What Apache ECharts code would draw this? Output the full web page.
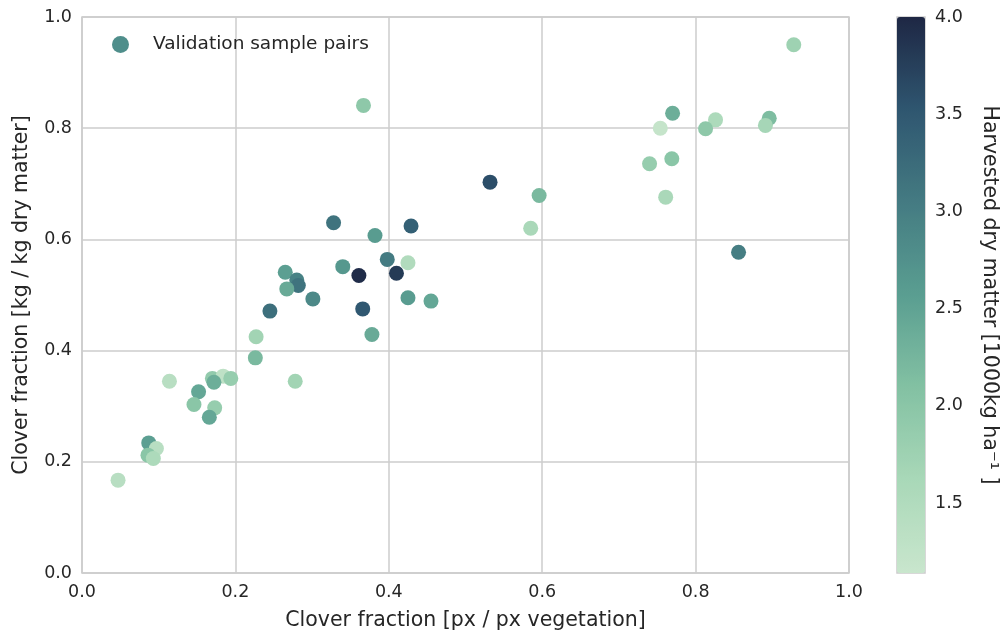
<!DOCTYPE html>
<html>
<head>
<meta charset="utf-8">
<script src="https://cdn.jsdelivr.net/npm/echarts@6/dist/echarts.min.js"></script>
<style>
  html, body { margin: 0; padding: 0; background: #fff; }
  #chart { width: 1006px; height: 632px; }
</style>
</head>
<body>
<div id="chart"></div>
<script>
var chart = echarts.init(document.getElementById("chart"));

// clover fraction from images (x), from lab (y), harvested dry matter (colour)
var pxFraction = [
  0.928, 0.770, 0.826, 0.896, 0.891, 0.754, 0.813, 0.740, 0.769, 0.761,
  0.856, 0.532, 0.596, 0.585, 0.367, 0.328, 0.429, 0.382, 0.398, 0.425,
  0.340, 0.361, 0.410, 0.265, 0.280, 0.282, 0.267, 0.301, 0.425, 0.455,
  0.245, 0.366, 0.378, 0.227, 0.226, 0.278, 0.114, 0.170, 0.184, 0.194,
  0.172, 0.152, 0.146, 0.173, 0.166, 0.087, 0.097, 0.086, 0.093, 0.047
];
var kgFraction = [
  0.950, 0.827, 0.815, 0.818, 0.805, 0.800, 0.799, 0.736, 0.745, 0.676,
  0.577, 0.703, 0.679, 0.620, 0.841, 0.630, 0.624, 0.607, 0.564, 0.558,
  0.551, 0.535, 0.539, 0.541, 0.527, 0.517, 0.511, 0.493, 0.495, 0.489,
  0.471, 0.475, 0.429, 0.425, 0.387, 0.345, 0.345, 0.350, 0.354, 0.350,
  0.343, 0.326, 0.303, 0.297, 0.280, 0.234, 0.224, 0.212, 0.206, 0.167
];
var dryMatter = [
  1.75, 2.35, 1.55, 2.15, 1.65, 1.20, 1.95, 1.85, 2.00, 1.60,
  3.00, 3.60, 2.20, 1.60, 1.95, 3.15, 3.40, 2.60, 3.05, 1.50,
  2.65, 3.95, 3.80, 2.55, 2.95, 3.15, 2.40, 2.85, 2.60, 2.45,
  3.20, 3.50, 2.40, 1.70, 2.20, 1.70, 1.40, 1.90, 1.30, 1.85,
  2.35, 2.45, 2.00, 1.85, 2.45, 2.55, 1.40, 2.00, 1.55, 1.40
];

var axisTicks = [0, 0.2, 0.4, 0.6, 0.8, 1.0];
var cbarMin = 1.14;
var cbarMax = 4.0;
var cmap = ["#c9e6cd", "#a9d8b8", "#83c1a3", "#5a9e91", "#447b82", "#2f5670", "#1e2744"];

var points = pxFraction.map(function (x, i) {
  return [x, kgFraction[i], dryMatter[i]];
});

var font = "DejaVu Sans";
var txt = "#262626";

var option = {
  backgroundColor: "#fff",
  textStyle: { fontFamily: font },
  grid: [
    { left: 82, right: 157, top: 17, bottom: 59, outerBoundsMode: "none", containLabel: false,
      show: true, borderColor: "#cccccc", borderWidth: 1.5 },
    { left: 897, width: 28, top: 17, height: 556, outerBoundsMode: "none", containLabel: false,
      show: true, borderColor: "#cccccc", borderWidth: 1.5 }
  ],
  legend: {
    left: 107, top: 30,
    itemWidth: 17, itemHeight: 17,
    textStyle: { fontFamily: font, fontSize: 18.5, color: txt, padding: [0, 0, 0, 19] },
    data: [{ name: "Validation sample pairs", icon: "circle", itemStyle: { color: "#4f8e8b" } }]
  },
  xAxis: [
    {
      type: "value", min: axisTicks[0], max: axisTicks[axisTicks.length - 1], interval: 0.2,
      name: "Clover fraction [px / px vegetation]", nameLocation: "middle", nameGap: 37,
      nameTextStyle: { fontFamily: font, fontSize: 20.5, color: txt },
      axisLine: { show: false }, axisTick: { show: false },
      axisLabel: { fontFamily: font, fontSize: 17.5, color: txt, margin: 10, formatter: function (v) { return v.toFixed(1); } },
      splitLine: { lineStyle: { color: "#cccccc", width: 1.5 } }
    },
    { gridIndex: 1, type: "value", show: false, min: 0, max: 1 }
  ],
  yAxis: [
    {
      type: "value", min: axisTicks[0], max: axisTicks[axisTicks.length - 1], interval: 0.2,
      name: "Clover fraction [kg / kg dry matter]", nameLocation: "middle", nameGap: 50,
      nameTextStyle: { fontFamily: font, fontSize: 20.5, color: txt },
      axisLine: { show: false }, axisTick: { show: false },
      axisLabel: { fontFamily: font, fontSize: 17.5, color: txt, margin: 10, formatter: function (v) { return v.toFixed(1); } },
      splitLine: { lineStyle: { color: "#cccccc", width: 1.5 } }
    },
    {
      gridIndex: 1, type: "value", position: "right", min: cbarMin, max: cbarMax, splitNumber: 5,
      name: "Harvested dry matter [1000kg ha\u207b\u00b9 ]", nameLocation: "middle", nameGap: 54, nameRotate: -90,
      nameTextStyle: { fontFamily: font, fontSize: 20.5, color: txt },
      axisLine: { show: false }, axisTick: { show: false }, splitLine: { show: false },
      axisLabel: { fontFamily: font, fontSize: 17.5, color: txt, margin: 10, showMinLabel: false,
        formatter: function (v) { return v.toFixed(1); } }
    }
  ],
  visualMap: {
    type: "continuous", dimension: 2, seriesIndex: 0,
    min: cbarMin, max: cbarMax, calculable: false, realtime: false,
    orient: "vertical", left: 897, top: 17, padding: 0,
    itemWidth: 28, itemHeight: 556, text: null, showLabel: false,
    inRange: { color: cmap }
  },
  series: [
    {
      name: "Validation sample pairs", type: "scatter",
      symbolSize: 15, data: points,
      itemStyle: { color: "#4f8e8b", opacity: 1 }
    }
  ]
};
chart.setOption(option);
</script>
</body>
</html>
